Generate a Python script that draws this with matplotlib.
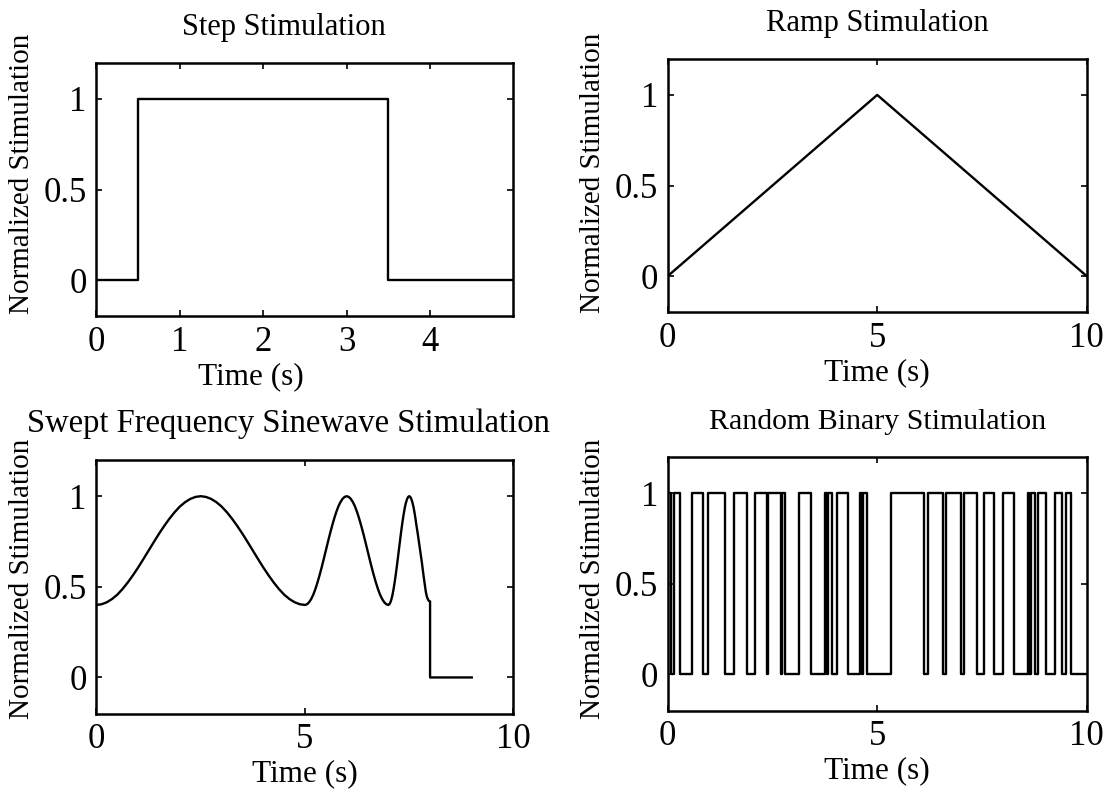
import numpy as np
import matplotlib
matplotlib.use("Agg")
import matplotlib.pyplot as plt

# step stimulation
step_t = [0.0, 0.5, 3.5, 5.0]
step_y = [0, 1, 0, 0]

# ramp stimulation
ramp_t = [0, 5, 10]
ramp_y = [0, 1, 0]

# swept frequency sinewave
# slow part 0-5 s sampled every 0.125 s
sweep_a_t = np.linspace(0, 5, 41)
sweep_a_y = [0.400, 0.404, 0.415, 0.433, 0.457, 0.488, 0.524, 0.564, 0.607, 0.653,
             0.700, 0.747, 0.793, 0.836, 0.876, 0.912, 0.943, 0.967, 0.985, 0.996,
             1.000, 0.996, 0.985, 0.967, 0.943, 0.912, 0.876, 0.836, 0.793, 0.747,
             0.700, 0.653, 0.607, 0.564, 0.524, 0.488, 0.457, 0.433, 0.415, 0.404,
             0.400]
# 5-7 s sampled every 0.05 s
sweep_b_t = np.linspace(5.05, 7.0, 40)
sweep_b_y = [0.404, 0.415, 0.433, 0.457, 0.488, 0.524, 0.564, 0.607, 0.653, 0.700,
             0.747, 0.793, 0.836, 0.876, 0.912, 0.943, 0.967, 0.985, 0.996, 1.000,
             0.996, 0.985, 0.967, 0.943, 0.912, 0.876, 0.836, 0.793, 0.747, 0.700,
             0.653, 0.607, 0.564, 0.524, 0.488, 0.457, 0.433, 0.415, 0.404, 0.400]
# 7-8 s sampled every 0.025 s, then the drop to zero
sweep_c_t = np.linspace(7.025, 8.0, 40)
sweep_c_y = [0.404, 0.415, 0.433, 0.457, 0.488, 0.524, 0.564, 0.607, 0.653, 0.700,
             0.747, 0.793, 0.836, 0.876, 0.912, 0.943, 0.967, 0.985, 0.996, 1.000,
             0.996, 0.985, 0.967, 0.943, 0.912, 0.876, 0.836, 0.800, 0.760, 0.720,
             0.680, 0.640, 0.595, 0.550, 0.510, 0.470, 0.445, 0.430, 0.422, 0.420]
sweep_end_t = [8.0, 9.0]
sweep_end_y = [0.0, 0.0]

# random binary: switching times and level held after each one
rb_t = [0, 0.08, 0.15, 0.29, 0.57, 0.84, 0.96, 1.36, 1.59, 1.89,
        2.08, 2.36, 2.40, 2.70, 2.74, 2.80, 3.14, 3.41, 3.76, 3.80,
        3.83, 3.92, 4.04, 4.31, 4.60, 4.64, 4.67, 4.76, 5.34, 6.12,
        6.20, 6.57, 6.64, 7.01, 7.07, 7.39, 7.55, 7.78, 8.00, 8.27,
        8.60, 8.63, 8.66, 8.77, 8.84, 9.02, 9.24, 9.40, 9.50, 9.62, 10.0]
rb_y = [1, 0, 1, 0, 1, 0, 1, 0, 1, 0,
        1, 0, 1, 0, 1, 0, 1, 0, 1, 0,
        1, 0, 1, 0, 1, 0, 1, 0, 1, 0,
        1, 0, 1, 0, 1, 0, 1, 0, 1, 0,
        1, 0, 1, 0, 1, 0, 1, 0, 1, 0, 0]

plt.rcParams['font.family'] = ['Liberation Serif', 'DejaVu Serif']

fig = plt.figure(figsize=(11.09, 7.93), dpi=100)
ax1 = fig.add_axes([0.087, 0.601, 0.376, 0.320])
ax2 = fig.add_axes([0.602, 0.606, 0.378, 0.320])
ax3 = fig.add_axes([0.087, 0.100, 0.376, 0.320])
ax4 = fig.add_axes([0.602, 0.104, 0.378, 0.320])

lw = 1.7
ax1.plot(step_t, step_y, color='black', lw=lw, drawstyle='steps-post')
ax2.plot(ramp_t, ramp_y, color='black', lw=lw)
sweep_t = np.concatenate([sweep_a_t, sweep_b_t, sweep_c_t, sweep_end_t])
sweep_y = sweep_a_y + sweep_b_y + sweep_c_y + sweep_end_y
ax3.plot(sweep_t, sweep_y, color='black', lw=lw)
ax4.plot(rb_t, rb_y, color='black', lw=lw, drawstyle='steps-post')

titles = ['Step Stimulation', 'Ramp Stimulation',
          'Swept Frequency Sinewave Stimulation', 'Random Binary Stimulation']
title_x = [0.45, 0.5, 0.46, 0.5]
title_size = [22, 22, 23.5, 21.5]
ylab_y = [0.56, 0.55, 0.53, 0.52]
for i, ax in enumerate([ax1, ax2, ax3, ax4]):
    ax.set_ylim(-0.2, 1.2)
    ax.set_yticks([0, 0.5, 1])
    ax.set_yticklabels(['0', '0.5', '1'])
    ax.set_title(titles[i], fontsize=title_size[i], pad=20, x=title_x[i])
    ax.set_xlabel('Time (s)', fontsize=22.5, labelpad=2)
    ax.set_ylabel('Normalized Stimulation', fontsize=21, labelpad=6)
    ax.yaxis.label.set_y(ylab_y[i])
    ax.tick_params(direction='in', top=True, right=True, length=4,
                   width=1.2, labelsize=25, pad=7)
    for s in ax.spines.values():
        s.set_linewidth(1.8)

ax1.set_xlim(0, 5)
ax1.set_xticks([0, 1, 2, 3, 4])
ax1.xaxis.label.set_x(0.37)
for ax in [ax2, ax3, ax4]:
    ax.set_xlim(0, 10)
    ax.set_xticks([0, 5, 10])

fig.savefig('out.png', dpi=100)
